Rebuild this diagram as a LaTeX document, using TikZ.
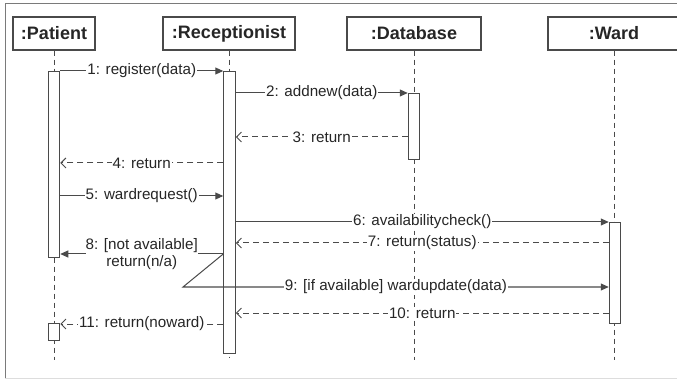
\documentclass[tikz,border=0pt]{standalone}
\usepackage{fontspec}
\setmainfont{Liberation Sans}
\usetikzlibrary{arrows.meta}
\definecolor{linegray}{HTML}{4A4A4A}
\definecolor{textgray}{HTML}{262626}
\definecolor{framegray}{HTML}{7A7A7A}
\definecolor{lightframe}{HTML}{DDDDDD}
\tikzset{
  obj/.style={draw=linegray, line width=1.2pt, fill=white, minimum height=33pt, inner sep=0pt,
    text=textgray, font=\fontsize{18}{20}\selectfont\bfseries},
  actbar/.style={draw=linegray, line width=1pt, fill=white, minimum width=11.5pt, anchor=north, inner sep=0pt},
  life/.style={draw=linegray, line width=1pt, dash pattern=on 5pt off 4pt},
  call/.style={draw=linegray, line width=1pt, -{Triangle[length=8pt,width=7pt]}},
  reply/.style={draw=linegray, line width=1pt, dash pattern=on 6pt off 4pt, -{Straight Barb[length=5pt,width=10pt]}},
  lbl/.style={fill=white, inner sep=1pt, text=textgray, font=\fontsize{15.2}{16.5}\selectfont}
}
\begin{document}
\begin{tikzpicture}[x=1pt,y=-1pt]
\useasboundingbox (0,0) rectangle (677,379);
%frame
\draw[framegray,line width=1pt] (677,4) -- (5,4) -- (5,378);
\draw[lightframe,line width=1pt] (5,378) -- (677,378);

%objects
\node[obj,minimum width=82pt]  (patient) at (54,33.5)  {:Patient};
\node[obj,minimum width=132pt] (recep)   at (229,33.5) {:Receptionist};
\node[obj,minimum width=134pt] (dbase)   at (414,33.5) {:Database};
\node[obj,minimum width=132pt] (ward)    at (614,33.5) {:Ward};

%lifelines
\coordinate (pend) at (54,360);
\coordinate (rend) at (229,358);
\coordinate (dend) at (414,360);
\coordinate (wend) at (614,360);
\draw[life] (patient.south) -- (pend);
\draw[life] (recep.south) -- (rend);
\draw[life] (dbase.south) -- (dend);
\draw[life] (ward.south) -- (wend);

%activations
\node[actbar,minimum height=186pt] (pbar)   at (54,71)    {};
\node[actbar,minimum height=17pt]  (pbar2)  at (54,323)   {};
\node[actbar,minimum height=282pt] (rbar)   at (229.5,71) {};
\node[actbar,minimum height=66pt]  (dbar)   at (414,93)   {};
\node[actbar,minimum height=101pt] (wbar)   at (615,222)  {};

%message rows
\coordinate (y1) at (0,71);
\coordinate (y2) at (0,93);
\coordinate (y3) at (0,137);
\coordinate (y4) at (0,163);
\coordinate (y5) at (0,196);
\coordinate (y6) at (0,222);
\coordinate (y7) at (0,243);
\coordinate (y8) at (0,254);
\coordinate (y9) at (0,287);
\coordinate (y10) at (0,313);
\coordinate (y11) at (0,324);
\coordinate (bend) at (183,287);

\draw[call]  (pbar.east |- y1) -- node[lbl]{1: register(data)} (rbar.west |- y1);
\draw[call]  (rbar.east |- y2) -- node[lbl]{2: addnew(data)} (dbar.west |- y2);
\draw[reply] (dbar.west |- y3) -- node[lbl]{3: return} (rbar.east |- y3);
\draw[reply] (rbar.west |- y4) -- node[lbl]{4: return} (pbar.east |- y4);
\draw[call]  (pbar.east |- y5) -- node[lbl]{5: wardrequest()} (rbar.west |- y5);
\draw[call]  (rbar.east |- y6) -- node[lbl]{6: availabilitycheck()} (wbar.west |- y6);
\draw[reply] (wbar.west |- y7) -- node[lbl]{7: return(status)} (rbar.east |- y7);
\draw[call]  (rbar.west |- y8) -- node[lbl,align=center,inner sep=0pt]{8: [not available]\\return(n/a)} (pbar.east |- y8);
\draw[call]  (rbar.west |- y8) -- (bend) -- node[lbl]{9: [if available] wardupdate(data)} (wbar.west |- y9);
\draw[reply] (wbar.west |- y10) -- node[lbl]{10: return} (rbar.east |- y10);
\draw[reply] (rbar.west |- y11) -- node[lbl]{11: return(noward)} (pbar2.east |- y11);
\end{tikzpicture}
\end{document}
